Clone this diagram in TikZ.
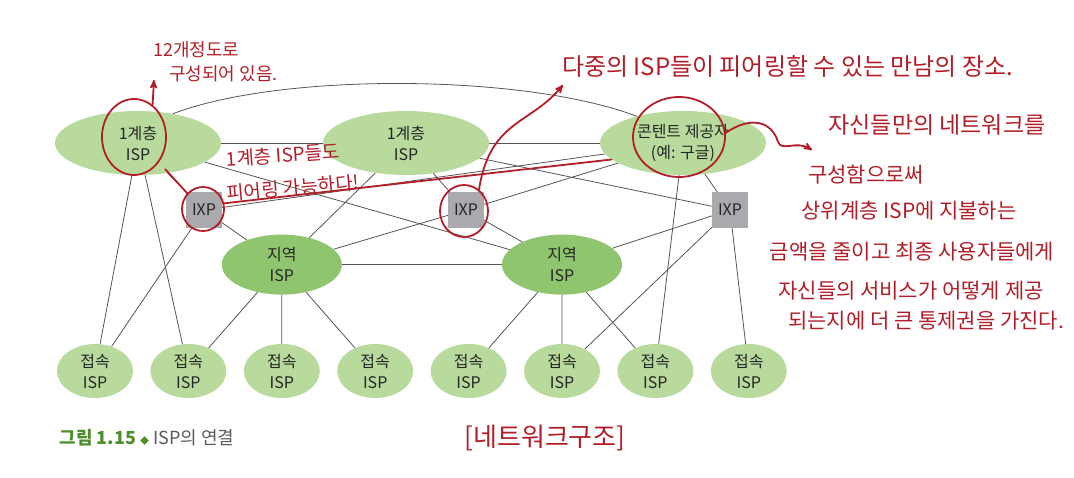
\documentclass[tikz,border=0pt]{standalone}
\usepackage{fontspec}
\setmainfont{Noto Sans CJK KR}
\usetikzlibrary{arrows,shapes,positioning}
\definecolor{tiergreen}{RGB}{184,218,156}
\definecolor{regiongreen}{RGB}{142,197,110}
\definecolor{ixpgray}{RGB}{170,170,174}
\definecolor{penred}{RGB}{178,30,40}
\definecolor{capgreen}{RGB}{78,142,44}
\definecolor{linkgray}{RGB}{85,85,85}
\tikzset{
  isp/.style={ellipse, fill=tiergreen, inner sep=0pt, align=center, text=black!85,
    font=\fontsize{16}{21}\selectfont},
  tier/.style={isp, minimum width=166pt, minimum height=64pt},
  region/.style={isp, fill=regiongreen, minimum width=120pt, minimum height=60pt},
  access/.style={isp, minimum width=76pt, minimum height=54pt},
  ixp/.style={rectangle, fill=ixpgray, minimum size=36pt, inner sep=0pt, text=black!85,
    font=\fontsize{16}{18}\selectfont},
  link/.style={draw=linkgray, line width=0.8pt},
  pen/.style={draw=penred, line width=1.8pt, line cap=round},
  ring/.style={ellipse, draw=penred, line width=1.8pt, inner sep=0pt},
  note/.style={text=penred, inner sep=0pt, font=\fontsize{21}{21}\selectfont}
}
\begin{document}
\begin{tikzpicture}[x=1pt,y=-1pt,>=stealth']
\useasboundingbox (0,0) rectangle (1074,478);

% tier 1 and content provider
\node[tier] (T1a) at (138,143) {1계층\\ISP};
\node[tier] (T1b) at (406,143) {1계층\\ISP};
\node[tier] (CP) at (683,143) {콘텐트 제공자\\(예: 구글)};

% exchange points
\node[ixp] (X1) at (204,210) {IXP};
\node[ixp] (X2) at (466,210) {IXP};
\node[ixp] (X3) at (730,210) {IXP};

% access row
\node[access] (A1) at (95,371) {접속\\ISP};
\node[access, right=17pt of A1] (A2) {접속\\ISP};
\node[access, right=17pt of A2] (A3) {접속\\ISP};
\node[access, right=17pt of A3] (A4) {접속\\ISP};
\node[access, right=17pt of A4] (A5) {접속\\ISP};
\node[access, right=17pt of A5] (A6) {접속\\ISP};
\node[access, right=17pt of A6] (A7) {접속\\ISP};
\node[access, right=17pt of A7] (A8) {접속\\ISP};

% regional
\node[region, above=49pt of A3] (R1) {지역\\ISP};
\node[region, above=49pt of A6] (R2) {지역\\ISP};

% links
\draw[link] (T1a) -- (T1b) -- (CP);
\draw[link] (T1a.40) .. controls +(110,-42) and +(-110,-42) .. (CP.150);
\draw[link] (T1a) -- (A1) (T1a) -- (A2) (T1a) -- (X1) (T1a) -- (R2);
\draw[link] (T1b) -- (R1) (T1b) -- (X2) (T1b) -- (X3);
\draw[link] (CP) -- (X1) (CP) -- (X2) (CP) -- (X3) (CP) -- (A7);
\draw[link] (X1) -- (A1) (X1) -- (R1);
\draw[link] (X2) -- (R1) (X2) -- (R2);
\draw[link] (X3) -- (R2) (X3) -- (A6) (X3) -- (A8);
\draw[link] (R1) -- (R2);
\draw[link] (R1) -- (A2) (R1) -- (A3) (R1) -- (A4);
\draw[link] (R2) -- (A5) (R2) -- (A6) (R2) -- (A7);

% caption
\node[anchor=west, font=\fontsize{18}{18}\selectfont] (cap) at (56,438)
  {\textcolor{capgreen}{\textbf{그림 1.15}} \textcolor{capgreen}{\fontsize{9}{9}\selectfont◆} \textcolor{black!65}{ISP의 연결}};

% red pen notes
\node[ring, minimum width=64pt, minimum height=76pt] (c1) at (134,137) {};
\node[ring, minimum width=42pt, minimum height=44pt] (c2) at (203,209) {};
\node[ring, minimum width=48pt, minimum height=52pt] (c3) at (464,211) {};
\node[ring, minimum width=92pt, minimum height=80pt] (c4) at (679,137) {};

\node[note, font=\fontsize{18}{18}\selectfont, anchor=west] (n1a) at (153,50) {12개정도로};
\node[note, font=\fontsize{18}{18}\selectfont, anchor=west] (n1b) at (169,74) {구성되어 있음.};
\coordinate (t1) at (154,80);
\draw[pen,->] (c1.60) -- (t1);

\node[note, font=\fontsize{19}{19}\selectfont, rotate=4] (n2a) at (283,155) {1계층 ISP들도};
\node[note, font=\fontsize{19}{19}\selectfont, rotate=5] (n2b) at (293,188) {피어링 가능하다!};
\draw[pen] (c2.135) -- ++(-22,-24);
\draw[pen] (c2.15) -- (CP.193);

\node[note, font=\fontsize{24}{24}\selectfont, anchor=west] (n3) at (562,66)
  {다중의 ISP들이 피어링할 수 있는 만남의 장소.};
\coordinate (t3) at (563,85);
\draw[pen,->] (c3.55) .. controls (490,120) and (530,125) .. (t3);

\node[note, font=\fontsize{23}{23}\selectfont] (n4a) at (937,125) {자신들만의 네트워크를};
\node[note] (n4b) at (866,175) {구성함으로써};
\node[note] (n4c) at (909,211) {상위계층 ISP에 지불하는};
\node[note] (n4d) at (912,252) {금액을 줄이고 최종 사용자들에게};
\node[note] (n4e) at (911,291) {자신들의 서비스가 어떻게 제공};
\node[note] (n4f) at (926,321) {되는지에 더 큰 통제권을 가진다.};
\coordinate (t4) at (812,150);
\draw[pen,->] (c4.5) .. controls (752,115) and (772,122) .. (778,142)
  .. controls (782,152) and (796,140) .. (t4);

\node[note, font=\fontsize{26}{26}\selectfont] (n5) at (545,438) {[네트워크구조]};
\end{tikzpicture}
\end{document}
